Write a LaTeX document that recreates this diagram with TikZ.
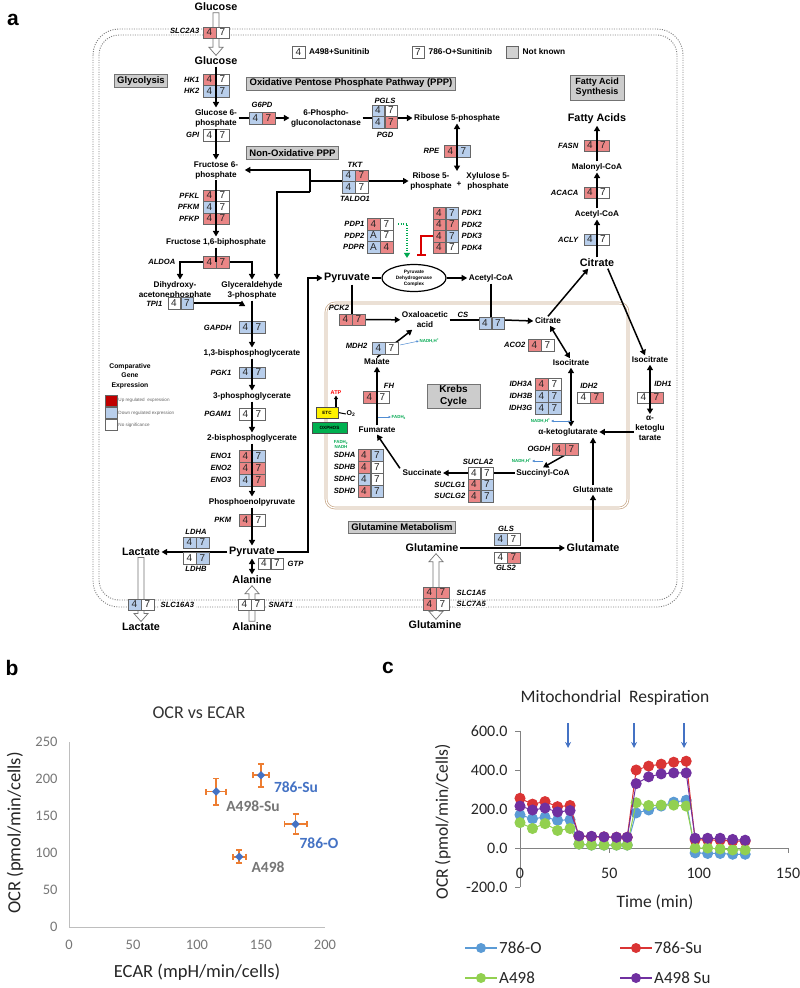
\documentclass[tikz,border=0pt]{standalone}
\usepackage{fontspec}
\setmainfont{Liberation Sans}
\newfontfamily\calib{Carlito}
\usetikzlibrary{arrows.meta,shapes.geometric,calc}
\pgfdeclarelayer{back}\pgfdeclarelayer{bg}
\pgfsetlayers{back,bg,main}
\definecolor{cr}{RGB}{234,134,134}
\definecolor{cb}{RGB}{184,206,235}
\definecolor{cw}{RGB}{255,255,255}
\definecolor{cgr}{RGB}{210,210,210}
\definecolor{lgred}{RGB}{192,0,0}
\definecolor{kbr}{RGB}{200,168,136}
\definecolor{nadh}{RGB}{0,168,80}
\definecolor{arrb}{RGB}{80,140,210}
\definecolor{oxg}{RGB}{0,176,80}
\definecolor{bdot}{RGB}{68,114,196}
\definecolor{orr}{RGB}{237,125,49}
\definecolor{sa}{RGB}{91,155,213}
\definecolor{sb}{RGB}{218,52,52}
\definecolor{sc}{RGB}{146,208,80}
\definecolor{sd}{RGB}{112,48,160}
\definecolor{axg}{RGB}{190,190,190}
\definecolor{axc}{RGB}{130,130,130}
\definecolor{tkg}{RGB}{118,118,118}
\newcommand\mfG{\bfseries\itshape\fontsize{7.6}{8}\selectfont}
\newcommand\mfM{\bfseries\fontsize{8.2}{10}\selectfont}
\newcommand\mfB{\bfseries\fontsize{10.8}{12}\selectfont}
\newcommand\gbx[6]{\node[cell,fill=#3,anchor=east] (#1a) at (#2) {#5};\node[cell,fill=#4,anchor=west] (#1b) at (#2) {#6};}
\newcommand\holdn[2]{\draw[hol] let \p1=(#1), \p2=(#2) in (\x1-3pt,\y1) -- (\x1+3pt,\y1) -- (\x1+3pt,\y2+8pt) -- (\x1+7pt,\y2+8pt) -- (\x1,\y2) -- (\x1-7pt,\y2+8pt) -- (\x1-3pt,\y2+8pt) -- cycle;}
\newcommand\holup[2]{\draw[hol] let \p1=(#1), \p2=(#2) in (\x1-3pt,\y1) -- (\x1+3pt,\y1) -- (\x1+3pt,\y2-8pt) -- (\x1+7pt,\y2-8pt) -- (\x1,\y2) -- (\x1-7pt,\y2-8pt) -- (\x1-3pt,\y2-8pt) -- cycle;}
\newcommand\holud[2]{\draw[hol] let \p1=(#1), \p2=(#2) in (\x1,\y1) -- (\x1+7pt,\y1+8pt) -- (\x1+3pt,\y1+8pt) -- (\x1+3pt,\y2-8pt) -- (\x1+7pt,\y2-8pt) -- (\x1,\y2) -- (\x1-7pt,\y2-8pt) -- (\x1-3pt,\y2-8pt) -- (\x1-3pt,\y1+8pt) -- (\x1-7pt,\y1+8pt) -- cycle;}
\begin{document}
\begin{tikzpicture}[x=1pt,y=-1pt,
 cell/.style={draw=black!60,line width=0.5pt,minimum width=12.5pt,minimum height=11.5pt,inner sep=0pt,font=\fontsize{10}{10}\selectfont,text=black!85},
 gene/.style={font=\mfG,inner sep=0.5pt},
 met/.style={font=\mfM,align=center,inner sep=1.5pt},
 bigm/.style={font=\mfB,inner sep=1.5pt},
 glab/.style={draw=black!55,fill=black!20,line width=1pt,font=\bfseries\fontsize{9.5}{11}\selectfont,inner xsep=3pt,inner ysep=1.5pt,minimum height=13pt,align=center},
 arr/.style={line width=1.5pt,-{Triangle[length=5.5pt,width=6pt]}},
 darr/.style={line width=1.5pt,{Triangle[length=5.5pt,width=6pt]}-{Triangle[length=5.5pt,width=6pt]}},
 ln/.style={line width=1.5pt},
 mem/.style={draw=black!50,line width=0.9pt,dash pattern=on 1pt off 1.4pt},
 hol/.style={draw=black!55,fill=white,line width=0.7pt},
 tinyt/.style={font=\bfseries\fontsize{4.4}{5}\selectfont,inner sep=0.5pt},
 sarr/.style={draw=arrb,line width=0.5pt,-{Latex[length=2.5pt,width=2.5pt]}},
 trl/.style={gene,fill=white,inner xsep=1.5pt,inner ysep=0.5pt},
 keyt/.style={font=\bfseries\fontsize{8.3}{9}\selectfont,anchor=west,inner sep=1pt},
 lgs/.style={font=\fontsize{4.6}{5}\selectfont,text=black!60,anchor=west,inner sep=1pt},
 tkb/.style={font=\calib\fontsize{14.5}{15}\selectfont,text=tkg},
 tkc/.style={font=\calib\fontsize{16}{17}\selectfont,text=black!85},
 errb/.style={draw=orr,line width=1.8pt,{Bar[width=6pt]}-{Bar[width=6pt]}},
 barr/.style={draw=bdot,line width=1.2pt,-{Stealth[length=6pt,width=6pt]}},
 legc/.style={font=\calib\fontsize{17}{18}\selectfont,text=black!85,anchor=west,inner sep=1pt}
]
\useasboundingbox (0,0) rectangle (800,988);
\begin{pgfonlayer}{back}
\fill[white] (0,0) rectangle (800,988);
\end{pgfonlayer}
\node[font=\bfseries\fontsize{21}{21}\selectfont] (lblA) at (13,20) {a};
\node[font=\bfseries\fontsize{21}{21}\selectfont] (lblB) at (12,668) {b};
\node[font=\bfseries\fontsize{21}{21}\selectfont] (lblC) at (388,668) {c};

% ---------- membrane and Krebs frame
\begin{pgfonlayer}{back}
\draw[mem,rounded corners=26pt] (93,29) rectangle (683,607);
\draw[mem,rounded corners=20pt] (99,35) rectangle (677,600);
\draw[kbr,line width=0.7pt,double=white,double distance=1.2pt,rounded corners=9pt] (326,303) rectangle (628,508);
\end{pgfonlayer}

% ---------- metabolites
\node[bigm] (glc0) at (216,7) {Glucose};
\node[bigm] (glc) at (216,61) {Glucose};
\node[met] (g6p) at (216,118) {Glucose 6-\\phosphate};
\node[met] (pgl) at (326,118) {6-Phospho-\\gluconolactonase};
\node[met] (ru5p) at (457,118) {Ribulose 5-phosphate};
\node[met] (r5p) at (431,181) {Ribose 5-\\phosphate};
\node[met] (plus) at (459,184) {+};
\node[met] (x5p) at (488,181) {Xylulose 5-\\phosphate};
\node[met] (f6p) at (216,170) {Fructose 6-\\phosphate};
\node[met] (f16) at (216,242) {Fructose 1,6-biphosphate};
\node[met] (dhap) at (175,290) {Dihydroxy-\\acetonephosphate};
\node[met] (gap) at (252,290) {Glyceraldehyde\\3-phosphate};
\node[met] (bpg) at (252,353) {1,3-bisphosphoglycerate};
\node[met] (pg3) at (252,396) {3-phosphoglycerate};
\node[met] (pg2) at (252,438) {2-bisphosphoglycerate};
\node[met] (pep) at (252,502) {Phosphoenolpyruvate};
\node[bigm] (pyr) at (252,552) {Pyruvate};
\node[bigm] (lac) at (141,552) {Lactate};
\node[bigm] (ala) at (252,580) {Alanine};
\node[bigm] (lac2) at (141,627) {Lactate};
\node[bigm] (ala2) at (252,627) {Alanine};
\node[bigm] (pyr2) at (347,278) {Pyruvate};
\node[draw,ellipse,line width=1.2pt,minimum width=64pt,minimum height=27pt,inner sep=0pt,align=center,font=\bfseries\fontsize{4.8}{6}\selectfont] (pdc) at (414,278) {Pyruvate\\Dehydrogenase\\Complex};
\node[met] (acoa) at (491,278) {Acetyl-CoA};
\node[met] (oaa) at (425,320) {Oxaloacetic\\acid};
\node[met] (cit) at (548,321) {Citrate};
\node[met] (icit) at (571,363) {Isocitrate};
\node[met] (akg) at (568,432) {α-ketoglutarate};
\node[met] (scoa) at (543,473) {Succinyl-CoA};
\node[met] (succ) at (422,473) {Succinate};
\node[met] (fum) at (377,430) {Fumarate};
\node[met] (mal) at (377,362) {Malate};
\node[met] (glui) at (593,490) {Glutamate};
\node[met] (icit2) at (650,360) {Isocitrate};
\node[met] (akg2) at (650,428) {α-\\ketoglu\\tarate};
\node[bigm] (citb) at (597,263) {Citrate};
\node[met] (acoa2) at (597,214) {Acetyl-CoA};
\node[met] (mcoa) at (597,167) {Malonyl-CoA};
\node[bigm] (fa) at (597,119) {Fatty Acids};
\node[bigm] (gln) at (432,548) {Glutamine};
\node[bigm] (glu) at (593,548) {Glutamate};
\node[bigm] (gln2) at (435,625) {Glutamine};

% ---------- grey section labels
\node[glab] (gGly) at (141,81) {Glycolysis};
\node[glab] (gPPP) at (351,83.5) {Oxidative Pentose Phosphate Pathway (PPP)};
\node[glab] (gNon) at (292.5,153) {Non-Oxidative PPP};
\node[glab,minimum width=54pt,minimum height=25pt,inner ysep=1pt,font=\bfseries\fontsize{9}{10}\selectfont] (gFA) at (597,87.5) {Fatty Acid\\Synthesis};
\node[glab,minimum width=53pt,minimum height=24pt,font=\bfseries\fontsize{10}{11.5}\selectfont] (gKr) at (453.5,396) {Krebs\\Cycle};
\node[glab,minimum height=12pt] (gGl) at (402,527) {Glutamine Metabolism};

% ---------- key (top)
\node[cell,fill=white] (k4) at (298.5,52) {4};
\node[keyt] (k4t) at ([xshift=3pt]k4.east) {A498+Sunitinib};
\node[cell,fill=white] (k7) at (418,52) {7};
\node[keyt] (k7t) at ([xshift=3pt]k7.east) {786-O+Sunitinib};
\node[cell,fill=cgr] (kn) at (512,52) {};
\node[keyt] (knt) at ([xshift=3pt]kn.east) {Not known};

% ---------- key (left)
\node[font=\bfseries\fontsize{6.8}{9.5}\selectfont,align=center] (cge) at (130,376) {Comparative\\Gene\\Expression};
\node[cell,fill=lgred,minimum width=12pt,minimum height=11pt] (lu) at (111,400.5) {};
\node[cell,fill=cb,minimum width=12pt,minimum height=11pt] (ld) at (111,413) {};
\node[cell,fill=white,minimum width=12pt,minimum height=11pt] (lns) at (111,425) {};
\node[lgs] (lut) at (lu.east) {Up regulated\ \ expression};
\node[lgs] (ldt) at (ld.east) {Down regulated expression};
\node[lgs] (lnt) at (lns.east) {No significance};

% ---------- gene boxes
\gbx{slc2}{216,32.5}{cr}{cw}{4}{7}
\gbx{hka}{216,79.5}{cr}{cw}{4}{7}
\gbx{hkb}{216,91}{cb}{cb}{4}{7}
\gbx{gpi}{216,135}{cw}{cw}{4}{7}
\gbx{g6pd}{262,118}{cb}{cr}{4}{7}
\gbx{pgls}{384.5,110.5}{cb}{cw}{4}{7}
\gbx{pgd}{384.5,122}{cb}{cr}{4}{7}
\gbx{rpe}{457,151}{cr}{cb}{4}{7}
\gbx{tkt}{355,175.5}{cb}{cr}{4}{7}
\gbx{tal}{355,187}{cb}{cw}{4}{7}
\gbx{pfkl}{216,195.5}{cr}{cw}{4}{7}
\gbx{pfkm}{216,207}{cb}{cw}{4}{7}
\gbx{pfkp}{216,218.5}{cr}{cr}{4}{7}
\gbx{aldo}{216,262}{cr}{cr}{4}{7}
\gbx{tpi}{180.5,303}{cw}{cb}{4}{7}
\gbx{gapdh}{252,327}{cb}{cb}{4}{7}
\gbx{pgk}{252,372.5}{cb}{cb}{4}{7}
\gbx{pgam}{252,414}{cw}{cw}{4}{7}
\gbx{enoa}{252,456}{cr}{cb}{4}{7}
\gbx{enob}{252,468}{cr}{cr}{4}{7}
\gbx{enoc}{252,480}{cb}{cr}{4}{7}
\gbx{pkm}{252,520}{cr}{cw}{4}{7}
\gbx{ldha}{196,542.5}{cb}{cb}{4}{7}
\gbx{ldhb}{196,558}{cw}{cb}{4}{7}
\gbx{gtp}{270.5,563.5}{cw}{cw}{4}{7}
\gbx{slcl}{141,604.5}{cb}{cw}{4}{7}
\gbx{snat}{251,604.5}{cw}{cw}{4}{7}
\gbx{pdpa}{380,224}{cr}{cw}{4}{7}
\gbx{pdpb}{380,235.5}{cb}{cw}{A}{7}
\gbx{pdpr}{380,247}{cb}{cr}{A}{4}
\gbx{pdka}{445.5,213}{cr}{cb}{4}{7}
\gbx{pdkb}{445.5,224.5}{cr}{cr}{4}{7}
\gbx{pdkc}{445.5,236}{cr}{cb}{4}{7}
\gbx{pdkd}{445.5,247.5}{cr}{cw}{4}{7}
\gbx{pck}{352,319.5}{cr}{cr}{4}{7}
\gbx{cs}{491.5,323}{cb}{cb}{4}{7}
\gbx{mdh}{385,348}{cb}{cw}{4}{7}
\gbx{fh}{376,397}{cr}{cw}{4}{7}
\gbx{sdha}{370.5,455}{cr}{cb}{4}{7}
\gbx{sdhb}{370.5,467}{cr}{cw}{4}{7}
\gbx{sdhc}{370.5,479}{cb}{cw}{4}{7}
\gbx{sdhd}{370.5,491}{cr}{cb}{4}{7}
\gbx{sucla}{480.5,473}{cw}{cw}{4}{7}
\gbx{suga}{480.5,484.5}{cr}{cb}{4}{7}
\gbx{sugb}{480.5,496}{cr}{cb}{4}{7}
\gbx{acon}{541,345}{cr}{cw}{4}{7}
\gbx{idha}{548,384}{cr}{cw}{4}{7}
\gbx{idhb}{548,396}{cb}{cb}{4}{7}
\gbx{idhg}{548,408}{cb}{cb}{4}{7}
\gbx{idhtwo}{590,397.5}{cw}{cr}{4}{7}
\gbx{ogdh}{565,449}{cr}{cr}{4}{7}
\gbx{idhone}{650,397.5}{cw}{cr}{4}{7}
\gbx{fasn}{596.5,145.5}{cr}{cr}{4}{7}
\gbx{acaca}{596.5,192.5}{cr}{cw}{4}{7}
\gbx{acly}{596.5,239.5}{cb}{cw}{4}{7}
\gbx{gls}{507,539}{cb}{cw}{4}{7}
\gbx{glstwo}{507,557.5}{cw}{cr}{4}{7}
\gbx{slca}{436,592.5}{cr}{cr}{4}{7}
\gbx{slcb}{436,604}{cr}{cw}{4}{7}

% ---------- gene labels
\node[trl,anchor=east] (tSLC2) at (201,31) {SLC2A3};
\node[gene,anchor=east] (tHK1) at (200,79.5) {HK1};
\node[gene,anchor=east] (tHK2) at (200,91) {HK2};
\node[gene] (tG6PD) at (262,105) {G6PD};
\node[gene] (tPGLS) at (385,101) {PGLS};
\node[gene] (tPGD) at (385,135) {PGD};
\node[gene,anchor=east] (tRPE) at (440,151) {RPE};
\node[gene] (tTKT) at (355,165) {TKT};
\node[gene] (tTAL) at (355,199) {TALDO1};
\node[gene,anchor=east] (tGPI) at (200,135) {GPI};
\node[gene,anchor=east] (tPFKL) at (200,195.5) {PFKL};
\node[gene,anchor=east] (tPFKM) at (200,207) {PFKM};
\node[gene,anchor=east] (tPFKP) at (200,218.5) {PFKP};
\node[gene,anchor=east] (tALDO) at (176,262) {ALDOA};
\node[gene,anchor=east] (tTPI) at (163,304) {TPI1};
\node[gene,anchor=east] (tGAPDH) at (232,328) {GAPDH};
\node[gene,anchor=east] (tPGK) at (232,372.5) {PGK1};
\node[gene,anchor=east] (tPGAM) at (232,414) {PGAM1};
\node[gene,anchor=east] (tENO1) at (232,456) {ENO1};
\node[gene,anchor=east] (tENO2) at (232,468) {ENO2};
\node[gene,anchor=east] (tENO3) at (232,480) {ENO3};
\node[gene,anchor=east] (tPKM) at (232,520) {PKM};
\node[gene] (tLDHA) at (196,532) {LDHA};
\node[gene] (tLDHB) at (196,569) {LDHB};
\node[gene,anchor=west] (tGTP) at (287,563.5) {GTP};
\node[trl,anchor=west] (tSLC16) at (159,604.5) {SLC16A3};
\node[trl,anchor=west] (tSNAT) at (267,604.5) {SNAT1};
\node[gene,anchor=east] (tPDP1) at (365,224) {PDP1};
\node[gene,anchor=east] (tPDP2) at (365,235.5) {PDP2};
\node[gene,anchor=east] (tPDPR) at (365,247) {PDPR};
\node[gene,anchor=west] (tPDK1) at (461,213) {PDK1};
\node[gene,anchor=west] (tPDK2) at (461,224.5) {PDK2};
\node[gene,anchor=west] (tPDK3) at (461,236) {PDK3};
\node[gene,anchor=west] (tPDK4) at (461,247.5) {PDK4};
\node[gene] (tPCK) at (339,308) {PCK2};
\node[gene] (tCS) at (463,315) {CS};
\node[gene,anchor=east] (tMDH) at (368,346) {MDH2};
\node[gene] (tFH) at (389,386) {FH};
\node[gene,anchor=east] (tSDHA) at (356,455) {SDHA};
\node[gene,anchor=east] (tSDHB) at (356,467) {SDHB};
\node[gene,anchor=east] (tSDHC) at (356,479) {SDHC};
\node[gene,anchor=east] (tSDHD) at (356,491) {SDHD};
\node[gene] (tSUCLA) at (478,462) {SUCLA2};
\node[gene,anchor=east] (tSUG1) at (466,484.5) {SUCLG1};
\node[gene,anchor=east] (tSUG2) at (466,496) {SUCLG2};
\node[gene,anchor=east] (tACO) at (526,345) {ACO2};
\node[gene,anchor=east] (tIDH3A) at (533,384) {IDH3A};
\node[gene,anchor=east] (tIDH3B) at (533,396) {IDH3B};
\node[gene,anchor=east] (tIDH3G) at (533,408) {IDH3G};
\node[gene] (tIDH2) at (589,386) {IDH2};
\node[gene,anchor=east] (tOGDH) at (551,449) {OGDH};
\node[gene] (tIDH1) at (663,384) {IDH1};
\node[gene,anchor=east] (tFASN) at (579,145.5) {FASN};
\node[gene,anchor=east] (tACACA) at (579,192.5) {ACACA};
\node[gene,anchor=east] (tACLY) at (579,239.5) {ACLY};
\node[gene] (tGLS) at (506,528.5) {GLS};
\node[gene] (tGLS2) at (506,568) {GLS2};
\node[trl,anchor=west] (tSLC1) at (455,592.5) {SLC1A5};
\node[trl,anchor=west] (tSLC7) at (455,604) {SLC7A5};

% ---------- ETC / OXPHOS and small labels
\node[draw=black!70,fill=yellow,minimum width=22pt,minimum height=11pt,inner sep=0pt,font=\bfseries\fontsize{4.6}{5}\selectfont] (etc) at (327,412.5) {ETC};
\node[draw=black!70,fill=oxg,minimum width=35pt,minimum height=11pt,inner sep=0pt,font=\bfseries\fontsize{4.6}{5}\selectfont] (ox) at (329.5,427.5) {OXPHOS};
\node[font=\bfseries\fontsize{5.5}{6}\selectfont,text=red,inner sep=0.5pt] (atp) at (336,393) {ATP};
\node[font=\bfseries\fontsize{7}{7}\selectfont,inner sep=0.5pt] (otwo) at (351,414) {O\textsubscript{2}};
\node[tinyt,text=nadh,align=center] (fn) at (341,444) {FADH\textsubscript{2}\\NADH};
\node[tinyt,text=nadh,anchor=west] (nd1) at (419,341) {NADH,H\textsuperscript{+}};
\node[tinyt,text=nadh,anchor=west] (fd1) at (391,417) {FADH\textsubscript{2}};
\node[tinyt,text=nadh,anchor=east] (nd2) at (551,421) {NADH,H\textsuperscript{+}};
\node[tinyt,text=nadh,anchor=east] (nd3) at (532,461) {NADH,H\textsuperscript{+}};

% ---------- connectors passing beside or under the boxes
\begin{pgfonlayer}{bg}
\holdn{glc0.south}{glc.north}
\holdn{lac.south}{lac2.north}
\holup{ala2.north}{ala.south}
\holud{slcaa.east |- gln2.north}{slcaa.east |- gln.south}
\draw[arr] (g6p) -- (pgl);
\draw[arr] (pgl) -- (ru5p);
\coordinate (tj) at (310,181);
\coordinate (tjb) at (310,192);
\draw[arr] (tj) -- (r5p);
\draw[arr] (tj) |- ([xshift=5pt]f6p.east);
\draw[ln] (tj) -- (tjb);
\draw[arr] (tjb) -| ([xshift=25pt]gap.north);
\coordinate (aj) at (216,262);
\draw[arr] (aj) -| ([xshift=5pt]dhap.north);
\draw[arr] (aj) -| (gap.north);
\draw[ln] ([xshift=5pt]dhap.south) -- (tpia.north east);
\draw[arr] (tpib.east) -| ([xshift=-10pt]gap.south);
\draw[arr] (pyr) -- (lac);
\draw[darr] (pyr) -- (ala);
\coordinate (pv) at (308,278);
\draw[arr] (pyr.east) -| (pv) -- (pyr2.west);
\draw[ln] (pyr2) -- (pdc);
\draw[arr] (pdc) -- (acoa);
\draw[draw=nadh,line width=1.4pt,dash pattern=on 1.2pt off 1.3pt,-{Triangle[length=5pt,width=6pt]}] ([xshift=5pt]pdpab.east) -| ([xshift=-7pt,yshift=6pt]pdc.north);
\draw[draw=red!85!black,line width=1.6pt,-{Bar[width=9pt]}] (pdkca.west) -| ([xshift=7pt,yshift=8pt]pdc.north);
\draw[ln] ([xshift=5pt]pyr2.south) -- (pcka.north east);
\draw[arr] (pckb) -- (oaa);
\draw[ln] (oaa.east) -- (oaa.east -| csa.west);
\draw[arr] (oaa.east -| csb.east) -- (cit.west);
\draw[ln] (acoa.south) -- (acoa.south |- csa.north);
\draw[arr] (mal.north) -- ([xshift=12pt]oaa.south west);
\draw[sarr] ([xshift=2pt,yshift=3pt]mdhb.east) -- (nd1.west);
\draw[sarr] (fum.north |- fd1.west) -- (fd1.west);
\draw[arr] ([xshift=-1pt]succ.north west) -- (fum.south);
\draw[ln] (scoa.west) -- (suclab.east);
\draw[arr] (suclaa.west) -- (succ.east);
\draw[darr] ([xshift=2pt]cit.south) -- ([xshift=-1pt]icit.north);
\draw[arr] (cit.north) -- ([xshift=10pt]citb.south west);
\draw[darr] (icit.south) -- (icit.south |- akg.north);
\draw[sarr] (icit.south |- nd2.east) -- (nd2.east);
\draw[arr] (ogdha.south east) -- (scoa.north);
\draw[sarr] ([xshift=11pt]nd3.east) -- (nd3.east);
\draw[arr] (akg2.west |- akg.east) -- (akg.east);
\draw[arr] (glui) -- (glui |- akg.south);
\draw[arr] (glu) -- (glui);
\draw[arr] (gln) -- (glu);
\draw[arr] ([xshift=-8pt]citb.south east) -- ([xshift=-5pt]icit2.north);
\draw[line width=1.1pt,-{Triangle[length=3.5pt,width=4pt]}] (etc.north -| atp.south) -- (atp.south);
\draw[line width=1pt] (etc.east) -- (otwo.west);
\end{pgfonlayer}
% ---------- vertical connectors drawn over the box dividers
\draw[arr] (glc) -- (g6p);
\draw[arr] (g6p) -- (f6p);
\coordinate (rpeE) at (457,171);
\draw[darr] (ru5p) -- (rpeE);
\draw[arr] (f6p) -- (f16);
\draw[ln] (f16) -- (aj);
\draw[arr] (gap) -- (bpg);
\draw[arr] (bpg) -- (pg3);
\draw[arr] (pg3) -- (pg2);
\draw[arr] (pg2) -- (pep);
\draw[arr] (pep) -- (pyr);
\draw[arr] (fum) -- (mal);
\draw[darr] (icit2) -- (akg2);
\draw[arr] (citb) -- (acoa2);
\draw[arr] (acoa2) -- (mcoa);
\draw[arr] (mcoa) -- (fa);

% ================= panel b
\node[font=\calib\fontsize{18}{19}\selectfont,text=black!80] (tB) at (199,713) {OCR vs ECAR};
\node[font=\calib\fontsize{18.5}{19}\selectfont,text=black!85] (xB) at (197,972) {ECAR (mpH/min/cells)};
\node[font=\calib\fontsize{18.5}{19}\selectfont,text=black!85,rotate=90] (yB) at (15,833) {OCR (pmol/min/cells)};
\begin{scope}[shift={(69,927)},x=1.28pt,y=0.74pt]
\draw[draw=axg,line width=0.8pt] (0,250) -- (0,0) -- (200,0);
\foreach \v in {0,50,...,250}{\node[tkb,anchor=east] at ([xshift=-8pt]0,\v) {\v};}
\foreach \v in {0,50,...,200}{\node[tkb] at ([yshift=-18pt]\v,0) {\v};}
\coordinate (ptA) at (115,183);
\coordinate (ptB) at (150,205);
\coordinate (ptC) at (177,139);
\coordinate (ptD) at (133,95);
\end{scope}
\foreach \n/\ex/\ey in {ptA/11/14,ptB/9/12.5,ptC/12/11,ptD/7.5/7.5}{
 \draw[errb] ([xshift=-\ex pt]\n) -- ([xshift=\ex pt]\n);
 \draw[errb] ([yshift=-\ey pt]\n) -- ([yshift=\ey pt]\n);
 \node[diamond,fill=bdot,inner sep=0pt,minimum size=8.5pt] at (\n) {};
}
\node[font=\calib\bfseries\fontsize{15.5}{16}\selectfont,text=bdot] (lB1) at (296,787) {786-Su};
\node[font=\calib\bfseries\fontsize{15.5}{16}\selectfont,text=tkg] (lB2) at (253,806) {A498-Su};
\node[font=\calib\bfseries\fontsize{15.5}{16}\selectfont,text=bdot] (lB3) at (319,843) {786-O};
\node[font=\calib\bfseries\fontsize{15.5}{16}\selectfont,text=tkg] (lB4) at (268,867) {A498};

% ================= panel c
\node[font=\calib\fontsize{17.5}{18}\selectfont,text=black!85] (tC) at (615,698) {Mitochondrial\ \ Respiration};
\node[font=\calib\fontsize{17.5}{18}\selectfont,text=black!85] (xC) at (655,902) {Time (min)};
\node[font=\calib\fontsize{17.5}{18}\selectfont,text=black!85,rotate=90] (yC) at (443,822) {OCR (pmol/min/Cells)};
\begin{scope}[shift={(520,848)},x=1.787pt,y=0.195pt]
\draw[draw=axc,line width=0.8pt] (0,600) -- (0,-200);
\foreach \v/\t in {600/600.0,400/400.0,200/200.0,0/0.0,-200/-200.0}{\draw[draw=axc,line width=0.8pt] (0,\v) -- ++(-5pt,0); \node[tkc,anchor=east] at ([xshift=-9pt]0,\v) {\t};}
\draw[draw=axc,line width=0.8pt] (0,0) -- (150,0);
\foreach \v in {50,100,150}{\draw[draw=axc,line width=0.8pt] (\v,0) -- ++(0,-5pt);}
\foreach \v in {0,50,100,150}{\node[tkc] at ([yshift=-25pt]\v,0) {\v};}
\draw[sa,line width=1pt] plot[mark=*,mark size=5pt,mark options={draw=none,fill=sa}] coordinates {(0,170)(7,150)(14,158)(21,142)(28,145)(33,20)(40,15)(47,15)(54,15)(60,15)(65,180)(72,195)(79,215)(86,235)(93,245)(98,-25)(105,-28)(112,-28)(119,-32)(126,-32)};
\draw[sb,line width=1pt] plot[mark=*,mark size=5pt,mark options={draw=none,fill=sb}] coordinates {(0,255)(7,225)(14,238)(21,212)(28,218)(33,60)(40,58)(47,57)(54,55)(60,55)(65,400)(72,420)(79,430)(86,440)(93,445)(98,42)(105,42)(112,40)(119,35)(126,35)};
\draw[sc,line width=1pt] plot[mark=*,mark size=5pt,mark options={draw=none,fill=sc}] coordinates {(0,130)(7,100)(14,125)(21,90)(28,100)(33,20)(40,15)(47,15)(54,15)(60,15)(65,232)(72,218)(79,220)(86,220)(93,215)(98,0)(105,0)(112,-5)(119,-10)(126,-10)};
\draw[sd,line width=1pt] plot[mark=*,mark size=5pt,mark options={draw=none,fill=sd}] coordinates {(0,215)(7,195)(14,205)(21,185)(28,192)(33,62)(40,60)(47,57)(54,55)(60,55)(65,330)(72,365)(79,380)(86,385)(93,385)(98,50)(105,50)(112,50)(119,44)(126,40)};
\foreach \t in {26.9,63.8,91.8}{\draw[barr] (\t,641) -- (\t,513);}
\end{scope}
% legend c
\coordinate (lc1) at (465,948);
\coordinate (lc2) at (620,948);
\coordinate (lc3) at (465,978);
\coordinate (lc4) at (620,978);
\foreach \c/\p/\t in {sa/lc1/786-O,sb/lc2/786-Su,sc/lc3/A498,sd/lc4/A498 Su}{
 \draw[\c,line width=1.4pt] (\p) -- ([xshift=32pt]\p);
 \node[circle,fill=\c,inner sep=0pt,minimum size=10pt] at ([xshift=16pt]\p) {};
 \node[legc] at ([xshift=33pt]\p) {\t};
}
\end{tikzpicture}
\end{document}
